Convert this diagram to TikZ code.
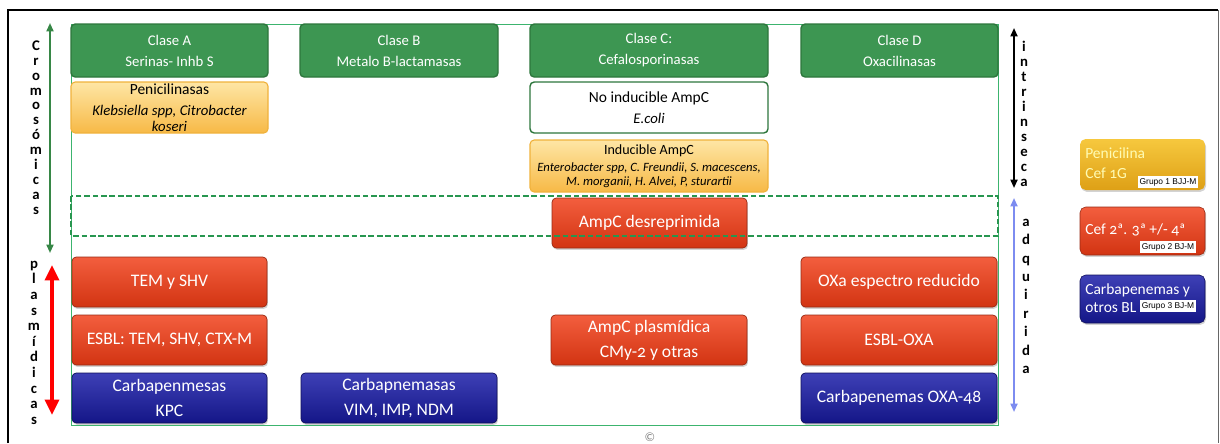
\documentclass[tikz,border=0pt]{standalone}
\usepackage{fontspec}
\setmainfont{Carlito}[Numbers=OldStyle]
\newfontfamily\etiqfont{Liberation Sans}
\usepackage{tikz}
\usetikzlibrary{positioning, arrows.meta, shadows}
\definecolor{clasefill}{RGB}{61,150,82}
\definecolor{claseborde}{RGB}{45,118,60}
\definecolor{marcoverde}{RGB}{60,180,110}
\definecolor{guionverde}{RGB}{40,150,80}
\definecolor{narTop}{RGB}{254,230,165}
\definecolor{narBot}{RGB}{247,185,70}
\definecolor{narBorde}{RGB}{240,178,60}
\definecolor{rojoTop}{RGB}{243,94,62}
\definecolor{rojoBot}{RGB}{210,52,18}
\definecolor{rojoBorde}{RGB}{150,42,20}
\definecolor{azulTop}{RGB}{62,64,182}
\definecolor{azulBot}{RGB}{20,22,135}
\definecolor{azulBorde}{RGB}{15,15,90}
\definecolor{oroTop}{RGB}{246,200,62}
\definecolor{oroBot}{RGB}{222,160,22}
\definecolor{flechaverde}{RGB}{55,135,70}
\definecolor{flechaazul}{RGB}{125,140,240}

\begin{document}
\begin{tikzpicture}[
        x=0.025cm, y=-0.025cm,
        >={Triangle[length=6pt,width=5pt]},
        % size of a box, in pixels of the layout
        caja/.style 2 args={
            minimum width=#1*0.025cm,
            minimum height=#2*0.025cm,
            inner sep=1pt,
            align=center,
            rounded corners=3pt
        },
        sombra/.style={drop shadow={opacity=0.35, shadow xshift=0.7pt, shadow yshift=-1.3pt}},
        % enzyme classes (top row)
        clase/.style={draw=claseborde, line width=1pt, fill=clasefill, text=white,
            font=\fontsize{10.5}{15}\selectfont},
        naranja/.style={draw=narBorde, line width=0.8pt, top color=narTop, bottom color=narBot},
        blanca/.style={draw=claseborde, line width=1pt, fill=white},
        roja/.style={draw=rojoBorde, line width=0.5pt, top color=rojoTop, bottom color=rojoBot,
            text=white, font=\fontsize{12.5}{18}\selectfont, sombra},
        azul/.style={draw=azulBorde, line width=0.5pt, top color=azulTop, bottom color=azulBot,
            text=white, font=\fontsize{12.5}{18}\selectfont, sombra},
        % legend on the right
        leyenda/.style={rounded corners=4pt, sombra, minimum width=125*0.025cm},
        leytexto/.style={anchor=west, inner sep=0pt, font=\fontsize{11}{13}\selectfont},
        grupo/.style={fill=white, inner sep=1.3pt, font=\etiqfont\fontsize{6}{7}\selectfont},
        letra/.style={anchor=mid, inner sep=0pt, font=\bfseries\fontsize{10.5}{11}\selectfont}
    ]

    \useasboundingbox (0,0) rectangle (1220,443);

    % outer frame (open at the bottom)
    \draw[line width=1.3pt] (8,443) -- (8,10) -- (1218,10);
    \draw[line width=0.6pt, black!60] (1218,10) -- (1218,443);

    % thin green frame behind the boxes
    \draw[marcoverde, line width=0.6pt] (71,24) rectangle (998,425);

    % 1. Top row: classes
    \node[caja={197}{53}, clase] (claseA) at (169.5,50.5) {Clase A\\Serinas- Inhb S};
    \node[caja={198}{53}, clase] (claseB) at (399,50.5) {Clase B\\Metalo B-lactamasas};
    \node[caja={238}{53}, clase] (claseC) at (649,50.5) {Clase C:\\Cefalosporinasas};
    \node[caja={197}{53}, clase] (claseD) at (899.5,50.5) {Clase D\\Oxacilinasas};

    % 2. Chromosomal enzymes
    \node[caja={197}{51}, naranja, font=\fontsize{10.5}{11}\selectfont\itshape] (penA) at (169.5,107.5)
        {{\upshape\fontsize{11}{11}\selectfont Penicilinasas}\\[4pt]
         Klebsiella spp, Citrobacter\\koseri};
    \node[caja={238}{51}, blanca, font=\fontsize{10.5}{11}\selectfont\itshape] (noind) at (649,107.5)
        {{\upshape\fontsize{11}{11}\selectfont No inducible AmpC}\\[4pt]
         E.coli};
    \node[caja={238}{52}, naranja, font=\fontsize{9}{10}\selectfont\itshape] (induc) at (649,166)
        {{\upshape\fontsize{10}{10}\selectfont Inducible AmpC}\\[2pt]
         Enterobacter spp, C. Freundii, S. macescens,\\
         M. morganii, H. Alvei, P, sturartii};
    \node[caja={195}{50}, roja] (desrep) at (649.5,223) {AmpC desreprimida};

    % 3. Plasmid enzymes
    \node[caja={195}{50}, roja] (tem) at (169.5,282) {TEM y SHV};
    \node[caja={195}{50}, roja] (esbl) at (169.5,340) {ESBL: TEM, SHV, CTX-M};
    \node[caja={195}{50}, azul] (kpc) at (169.5,398) {Carbapenmesas\\KPC};
    \node[caja={196}{50}, azul] (vim) at (399,398) {Carbapnemasas\\VIM, IMP, NDM};
    \node[caja={196}{50}, roja] (ampcp) at (649,340) {AmpC plasmídica\\CMy-2 y otras};
    \node[caja={196}{50}, roja] (oxa) at (899,282) {OXa espectro reducido};
    \node[caja={196}{50}, roja] (esbloxa) at (899,340) {ESBL-OXA};
    \node[caja={196}{50}, azul] (oxa48) at (899,398) {Carbapenemas OXA-48};

    % dashed band over the boxes
    \draw[guionverde, dashed, line width=1pt, dash pattern=on 4pt off 2pt] (71,196) rectangle (998,236);

    % 4. Side arrows and vertical words
    \coordinate (cromA) at (50,23);
    \coordinate (cromB) at (50,253);
    \draw[flechaverde, line width=1.3pt, <->] (cromA) -- (cromB);
    \coordinate (plasA) at (52,265);
    \coordinate (plasB) at (52,415);
    \draw[red, line width=2.4pt, {Triangle[length=11pt,width=10pt]}-{Triangle[length=11pt,width=10pt]}] (plasA) -- (plasB);
    \coordinate (intrA) at (1014,28);
    \coordinate (intrB) at (1014,188);
    \draw[black, line width=1.3pt, <->] (intrA) -- (intrB);
    \coordinate (adqA) at (1014,198);
    \coordinate (adqB) at (1014,412);
    \draw[flechaazul, line width=1.3pt, <->] (adqA) -- (adqB);

    \foreach \l [count=\i from 0] in {C,r,o,m,o,s,ó,m,i,c,a,s}
        \node[letra] (crom\i) at (36,47+14.9*\i) {\l};
    \foreach \l [count=\i from 0] in {p,l,a,s,m,í,d,i,c,a,s}
        \node[letra] (plas\i) at (34,265+15.6*\i) {\l};
    \foreach \l [count=\i from 0] in {i,n,t,r,i,n,s,e,c,a}
        \node[letra] (intr\i) at (1024,48+15*\i) {\l};
    \foreach \l [count=\i from 0] in {a,d,q,u,i,r,i,d,a}
        \node[letra] (adq\i) at (1026,223+18.4*\i) {\l};

    % 5. Legend
    \node[caja={125}{51}, leyenda, top color=oroTop, bottom color=oroBot] (leg1) at (1142.5,164.5) {};
    \node[leytexto, text=yellow!30] (leg1a) at (1085,153) {Penicilina};
    \node[leytexto, text=yellow!30] (leg1b) at (1085,173) {Cef 1G};
    \node[grupo] (grupo1) at (1168,182) {Grupo 1 BJJ-M};

    \node[caja={125}{48}, leyenda, top color=rojoTop, bottom color=rojoBot, draw=rojoBorde] (leg2) at (1142.5,231) {};
    \node[leytexto, text=white] (leg2a) at (1085,230) {Cef 2ª. 3ª +/- 4ª};
    \node[grupo] (grupo2) at (1168,247) {Grupo 2 BJ-M};

    \node[caja={125}{48}, leyenda, top color=azulTop, bottom color=azulBot, draw=azulBorde] (leg3) at (1142.5,299) {};
    \node[leytexto, text=white] (leg3a) at (1085,290) {Carbapenemas y};
    \node[leytexto, text=white] (leg3b) at (1085,308) {otros BL};
    \node[grupo] (grupo3) at (1168,306) {Grupo 3 BJ-M};

    % copyright mark
    \node[text=black!50, font=\fontsize{9}{10}\selectfont, inner sep=0pt] (copy) at (650,437) {\textcopyright};

\end{tikzpicture}
\end{document}
